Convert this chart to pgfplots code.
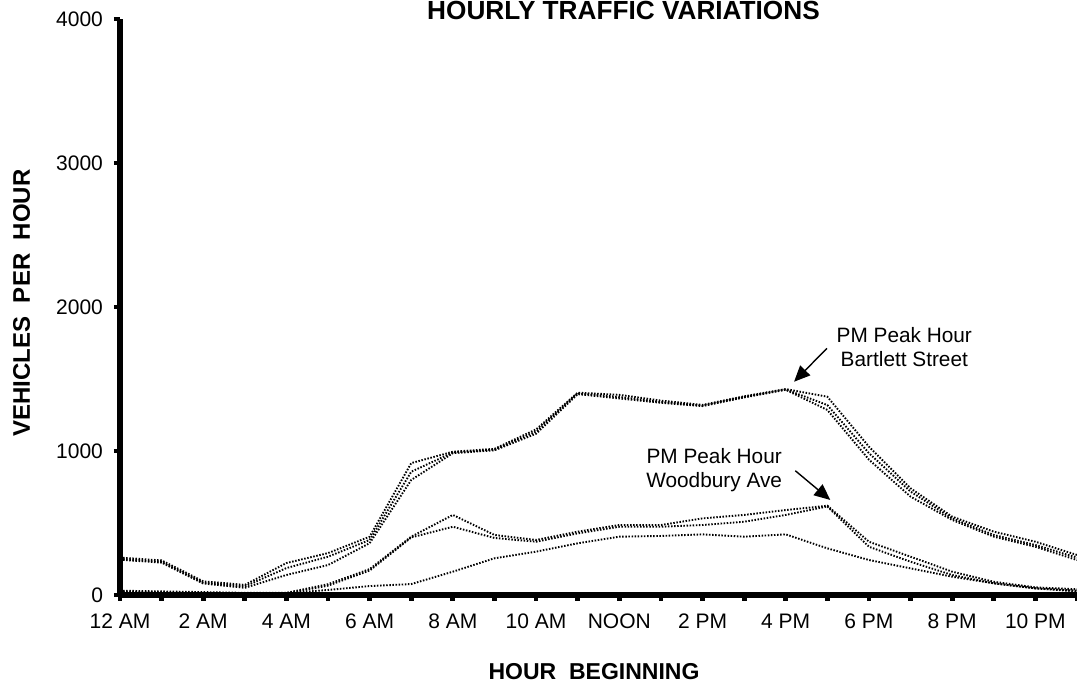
\documentclass[border=0pt]{standalone}
\usepackage{fontspec}
\setmainfont{Liberation Sans}
\usepackage{pgfplots}
\pgfplotsset{compat=1.18}
\usetikzlibrary{arrows.meta}

\begin{document}
\begin{tikzpicture}
\useasboundingbox (-60pt,-45pt) rectangle (478.5pt,297.5pt);
\begin{axis}[
  at={(0,0)}, anchor=south west,
  scale only axis, width=478.5pt, height=288pt,
  xmin=0, xmax=23, ymin=0, ymax=4000,
  axis x line*=bottom, axis y line*=left,
  axis line style={line width=2.8pt},
  tick align=outside, major tick length=3pt,
  tick style={line width=2.4pt, black},
  xtick={0,...,23},
  xticklabels={12 AM,,2 AM,,4 AM,,6 AM,,8 AM,,10 AM,,NOON,,2 PM,,4 PM,,6 PM,,8 PM,,10 PM,},
  ytick={0,1000,2000,3000,4000},
  /pgf/number format/assume math mode=true,
  /pgf/number format/1000 sep={},
  ticklabel style={font=\fontsize{10.5}{12}\selectfont},
  xticklabel style={anchor=base, yshift=-14pt},
  yticklabel style={anchor=east, xshift=-2pt},
  clip=false,
  no markers,
  every axis plot post/.append style={black, solid, mark=none, line width=0.95pt, dash pattern=on 0.75pt off 0.8pt},
]
% Bartlett Street
\addplot coordinates {(0,260)(1,240)(2,95)(3,70)(4,222)(5,291)(6,405)(7,916)(8,995)(9,1015)(10,1150)(11,1405)(12,1390)(13,1350)(14,1320)(15,1380)(16,1430)(17,1377)(18,1030)(19,741)(20,544)(21,440)(22,370)(23,278)};
\addplot coordinates {(0,250)(1,230)(2,85)(3,60)(4,187)(5,266)(6,382)(7,856)(8,990)(9,1010)(10,1135)(11,1400)(12,1375)(13,1340)(14,1315)(15,1375)(16,1428)(17,1319)(18,985)(19,718)(20,532)(21,417)(22,347)(23,260)};
\addplot coordinates {(0,245)(1,225)(2,80)(3,50)(4,139)(5,208)(6,360)(7,799)(8,985)(9,1005)(10,1120)(11,1395)(12,1365)(13,1335)(14,1312)(15,1372)(16,1425)(17,1285)(18,940)(19,683)(20,521)(21,405)(22,335)(23,243)};
% Woodbury Ave
\addplot coordinates {(0,30)(1,25)(2,20)(3,15)(4,15)(5,75)(6,180)(7,405)(8,556)(9,417)(10,382)(11,440)(12,486)(13,486)(14,532)(15,556)(16,590)(17,620)(18,370)(19,266)(20,162)(21,92)(22,53)(23,40)};
\addplot coordinates {(0,25)(1,20)(2,15)(3,10)(4,10)(5,65)(6,170)(7,400)(8,474)(9,396)(10,370)(11,428)(12,474)(13,474)(14,486)(15,509)(16,556)(17,615)(18,335)(19,231)(20,139)(21,81)(22,46)(23,30)};
\addplot coordinates {(0,20)(1,15)(2,10)(3,5)(4,12)(5,35)(6,62)(7,76)(8,162)(9,255)(10,301)(11,359)(12,405)(13,410)(14,421)(15,405)(16,421)(17,324)(18,243)(19,185)(20,127)(21,81)(22,46)(23,25)};

\node[font=\fontsize{10.4}{12}\selectfont, align=center] at (axis cs:18.85,1722) {PM Peak Hour\\Bartlett Street};
\draw[line width=0.7pt, -{Triangle[length=8pt,width=7pt]}] (axis cs:16.99,1713) -- (axis cs:16.2,1481);
\node[font=\fontsize{10.4}{12}\selectfont, align=center] at (axis cs:14.28,865) {PM Peak Hour\\Woodbury Ave};
\draw[line width=0.7pt, -{Triangle[length=8pt,width=7pt]}] (axis cs:16.23,863) -- (axis cs:17.07,660);
\end{axis}
\node[font=\bfseries\fontsize{13.1}{15}\selectfont, anchor=base] at (251.75pt,287.8pt) {HOURLY TRAFFIC VARIATIONS};
\node[font=\bfseries\fontsize{12}{14}\selectfont, rotate=90] at (-49.2pt,146pt) {VEHICLES\ \ PER\ \ HOUR};
\node[font=\bfseries\fontsize{11.5}{14}\selectfont, anchor=base] at (237pt,-42.25pt) {HOUR\ \ BEGINNING};
\end{tikzpicture}
\end{document}
